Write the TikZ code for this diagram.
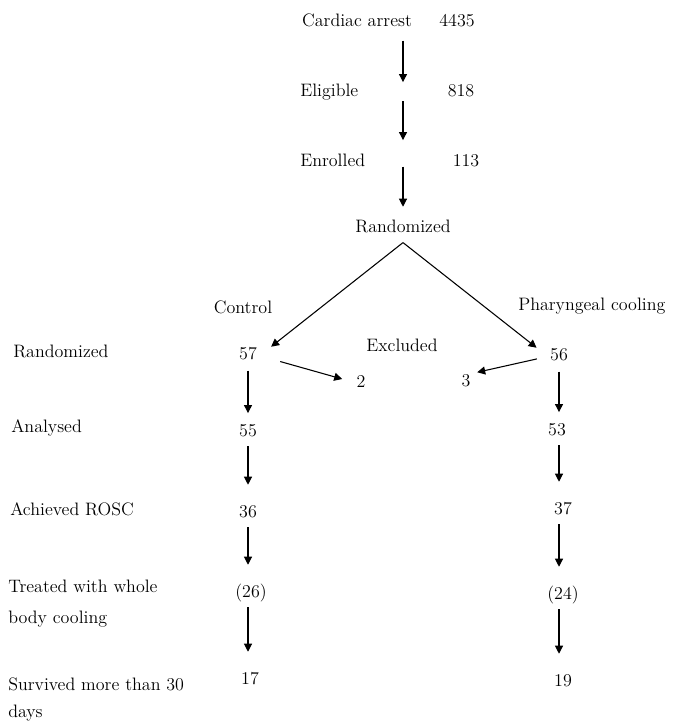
\documentclass[tikz,border=0pt]{standalone}
\usetikzlibrary{arrows.meta}
\begin{document}
\begin{tikzpicture}[x=0.75pt, y=-0.75pt,
  every node/.style={inner sep=0pt, text height=9pt, text depth=3pt,
    font=\fontsize{13.5}{20}\selectfont},
  lbl/.style={anchor=base west},
  num/.style={anchor=base},
  arr/.style={-{Triangle[length=6pt, width=6pt]}, line width=0.8pt,
    shorten <=4.5pt, shorten >=15pt},
  arrfirst/.style={arr, shorten <=5.5pt, shorten >=8pt}]
  \useasboundingbox (0, 0) rectangle (673, 723);
  % zgoraj
  \node [num] (cardiac) at (357, 27) {Cardiac arrest};
  \node [num] (n4435) at (457, 27) {4435};
  \node [lbl] (eligible) at (300, 97) {Eligible};
  \node [num] (n818) at (461, 97) {818};
  \node [lbl] (enrolled) at (300, 167) {Enrolled};
  \node [num] (n113) at (466, 167) {113};
  \node [num] (rand) at (403, 233) {Randomized};
  % skupini
  \node [num] (control) at (243, 313) {Control};
  \node [lbl] (phar) at (518, 310) {Pharyngeal cooling};
  \node [num] (excl) at (402, 351) {Excluded};
  % oznake levo
  \node [lbl] (randL) at (13, 357) {Randomized};
  \node [lbl] (analysed) at (11, 432) {Analysed};
  \node [lbl] (rosc) at (10, 515) {Achieved ROSC};
  \node [lbl] (treated) at (8, 592) {Treated with whole};
  \node [lbl] (body) at (8, 623) {body cooling};
  \node [lbl] (survived) at (8, 690) {Survived more than 30};
  \node [lbl] (days) at (8, 717) {days};
  % stevilke
  \node [num] (n57) at (248, 359) {57};
  \node [num] (n55) at (248, 436) {55};
  \node [num] (n36) at (248, 517) {36};
  \node [num] (n26) at (251, 597) {(26)};
  \node [num] (n17) at (250, 684) {17};
  \node [num] (n56) at (559, 360) {56};
  \node [num] (n53) at (557, 435) {53};
  \node [num] (n37) at (563, 514) {37};
  \node [num] (n24) at (563, 599) {(24)};
  \node [num] (n19) at (563, 686) {19};
  \node [num] (n2) at (361, 387) {2};
  \node [num] (n3) at (466, 386) {3};
  % puscice zgoraj
  \draw [arr, shorten <=7pt, shorten >=2pt] (cardiac.south -| rand) -- (eligible.north -| rand);
  \draw [arr, shorten <=0pt, shorten >=11pt] (eligible.south -| rand) -- (enrolled.north -| rand);
  \draw [arr, shorten <=-3.5pt, shorten >=10.5pt] (enrolled.south -| rand) -- (rand.north);
  \draw [arr, shorten <=0pt, shorten >=0pt] ([yshift=-4pt]rand.south) -- ([xshift=10.5pt]n57.north east);
  \draw [arr, shorten <=0pt, shorten >=0pt] ([yshift=-4pt]rand.south) -- ([xshift=-10pt]n56.north west);
  % izkljuceni
  \draw [arr, shorten <=18pt, shorten >=11pt] (n57.east) -- (n2.west);
  \draw [arr, shorten <=10pt, shorten >=5pt] (n56.west) -- (n3.north east);
  % puscice levo
  \draw [arrfirst] (n57.south) -- (n55.north -| n57);
  \draw [arr] (n55.south -| n57) -- (n36.north -| n57);
  \draw [arr] (n36.south -| n57) -- (n26.north -| n57);
  \draw [arr] (n26.south -| n57) -- (n17.north -| n57);
  % puscice desno
  \draw [arrfirst] (n56.south) -- (n53.north -| n56);
  \draw [arr] (n53.south -| n56) -- (n37.north -| n56);
  \draw [arr] (n37.south -| n56) -- (n24.north -| n56);
  \draw [arr] (n24.south -| n56) -- (n19.north -| n56);
\end{tikzpicture}
\end{document}
